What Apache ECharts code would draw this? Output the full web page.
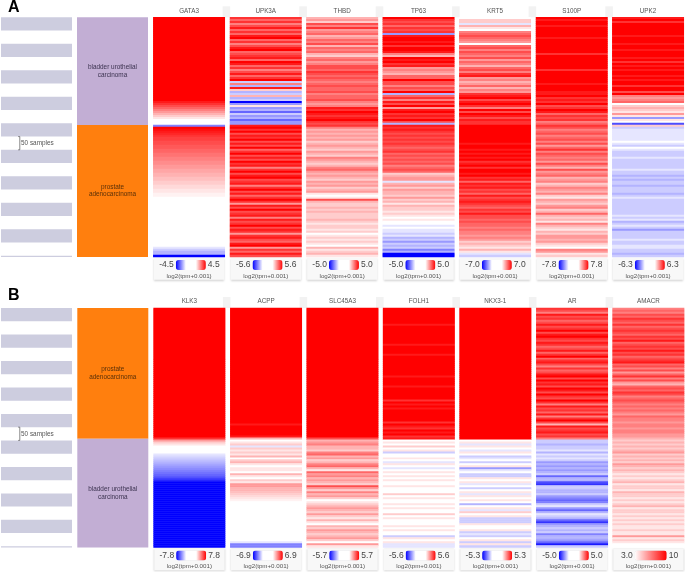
<!DOCTYPE html>
<html><head><meta charset="utf-8">
<style>html,body{margin:0;padding:0;background:#fff}#c{width:685px;height:572px}</style>
<script src="https://cdn.jsdelivr.net/npm/echarts@6/dist/echarts.min.js"></script>
</head><body><div id="c"></div>
<script>
// Row levels: -10 full blue, 0 white, +10 full red. 12 lines of 10 rows, top to bottom.
const GATA3=[10,10,10,10,10,10,10,10,10,10,10,10,10,10,10,10,10,10,10,10,10,10,10,10,10,10,10,10,10,10,10,10,10,10,10,10,10,10,10,10,
10,10,9,8,7,6,5,4,3,2,
1,0,0,0,-5,10,9.5,9,8.5,8,
7.5,7.5,7,7,6.5,6.5,6,6,5.5,5.5,
5,5,4.5,4.5,4,4,3.5,3.5,3,3,
2.5,2.5,2,2,1.5,1.5,1,1,.5,.5,
0,0,0,0,0,0,0,0,0,0,
0,0,0,0,0,0,0,0,0,0,
0,0,0,0,0,-1,-2,-3,-3,-10];
const UPK3A=[8,6,8,5,7,9,6,8,6,9,
10,6,8,5,7,9,10,6,7,8,
9,6,10,9,6,8,5,7,9,6,
8,10,-2,5,-3,9,2,-3,-2,3,
-3,-2,-10,-4,1,-4,-3,-6,-2,-4,
-3,-6,-4,-4,9,10,8,10,7,9,
8,10,7,9,7,10,6,8,10,7,
9,7,10,8,9,5,8,10,7,9,
10,7,8,9,5,8,10,7,9,6,
8,10,8,4,9,7,10,7,8,9,
5,9,7,8,10,7,9,8,4,8,
9,7,6,9,10,4,8,6,9,7];
const THBD=[3,4,2,7,5,8,4,5,6,3,
4,6,5,7,3,6,5,6,3,2,
5,6,4,5,7,7,6,8,7,6,
7,6,5,6,7,6,6,7,5,6,
6,7,5,4,5,9,8,10,9,8,
9,10,8,7,8,5,3,4,3,4,
3,4,2,3,4,3,2,4,3,2,
5,4,3,2,3,5,6,4,3,4,
3,2,4,3,4,2,3,4,1,0,
1,7,3,2,2,3,2,3,2,2,
2,3,2,1,2,2,1,2,0,1,
2,1,2,1,0,3,1,2,3,1];
const TP63=[10,8,7,8,6,8,7,8,-4,9,
10,10,9,10,8,10,10,9,5,3,
10,9,10,8,9,4,5,4,3,6,
6,10,7,7,5,7,6,10,-3,6,
8,5,9,7,10,4,9,10,8,9,
8,10,7,-3,9,8,9,8,7,8,
7,8,7,8,7,6,7,8,6,7,
6,7,6,7,5,6,7,6,2,3,
4,4,-1,3,4,2,4,3,3,2,
4,2,3,1,3,2,2,1,2,1,
0,1,0,0,-1,0,-1,-1,-2,-1,
-3,-2,-4,-2,-3,-2,-5,-3,-10,-10];
const KRT5=[0,2,2,-1,3,1,0,5,6,7,
6,5,4,0,6,7,5,7,6,5,
7,4,6,5,3,6,7,5,8,9,
4,5,3,4,6,3,5,4,8,9,
10,7,9,10,8,5,10,7,10,9,
7,9,8,8,10,10,10,10,10,10,
10,10,10,9,10,10,9,10,9,10,
9,10,8,9,10,8,10,10,9,10,
8,9,6,9,8,9,7,8,6,9,
7,8,9,8,7,6,8,7,9,7,
7,6,7,6,6,5,6,5,5,4,
5,4,2,3,2,1,3,1,-1,-2];
const S100P=[10,9,10,10,9,10,10,10,10,10,
9,10,10,10,10,10,10,10,8,10,
10,10,10,10,10,10,8,10,10,10,
10,10,10,9,10,10,10,9,9,10,
8,9,8,10,7,8,10,9,6,8,
7,8,5,6,8,7,5,6,7,5,
6,7,5,7,4,6,8,5,7,6,
5,6,4,7,5,3,7,4,5,6,
3,4,5,2,3,5,4,3,5,2,
1,4,3,2,4,5,2,3,6,3,
2,3,1,5,3,2,1,3,2,4,
4,3,4,2,1,0,5,4,1,2];
const UPK2=[9,10,8,10,10,10,10,10,10,9,
10,10,10,9,10,10,9,10,10,10,
9,10,8,10,9,10,9,10,10,9,
10,9,10,10,8,10,10,7,10,5,
4,5,6,0,2,3,2,1,4,1,
-4,1,0,-7,2,-2,-1,-1,-1,-1,
-1,-1,0,-1,-2,0,-1,-2,-2,-2,
-1,-2,-2,-2,-2,-2,-1,-2,-2,-3,
-2,-3,-2,-2,-3,-2,-2,-2,-3,-2,
-1,-2,-2,-2,-2,-2,-2,-2,-2,-1,
-2,-1,-3,-2,-1,-2,-4,-2,-2,-2,
-2,-1,-2,-2,-1,-1,-2,-2,-3,-2];
const KLK3=[10,10,10,10,10,10,10,10,10,10,10,10,10,10,10,10,10,10,10,10,10,10,10,10,10,10,10,10,10,10,
10,10,10,10,10,10,10,10,10,10,10,10,10,10,10,10,10,10,10,10,10,10,10,10,10,10,10,10,10,10,
10,10,10,10,10,8,4,2,1,0,
0,0,0,-1,-1.5,-2,-2.5,-3,-3.5,-4,
-4.5,-5,-5.5,-6,-6.5,-7.5,-8.5,-10,-10,-10,
-10,-10,-10,-10,-10,-10,-10,-10,-10,-10,-10,-10,-10,-10,-10,-10,-10,-10,-10,-10,-10,-10,-10,-10,-10,-10,-10,-10,-10,-10];
const ACPP=[10,10,10,10,10,10,10,10,10,10,10,10,10,10,10,10,10,10,10,10,10,10,10,10,10,
10,10,10,10,10,10,10,10,10,10,10,10,10,10,10,10,10,10,10,10,10,10,10,10,10,
10,10,10,10,10,10,10,10,9,10,
10,10,10,10,9,3,0,1,2,-1,
2,1,2,1,3,0,2,3,1,0,
1,1,0,3,1,0,2,1,4,4,
3,3,2.5,2,1.5,1,.5,0,0,0,
0,0,0,0,0,0,0,0,0,0,
0,0,0,0,0,0,0,-1,-5,-5];
const SLC45A3=[10,10,10,10,10,10,10,10,10,10,10,10,10,10,10,10,10,10,10,10,10,10,10,10,10,10,10,10,10,10,
10,10,10,10,10,10,10,10,10,10,10,10,10,10,10,10,10,10,10,10,10,10,10,10,10,10,10,10,10,10,
10,10,10,10,10,7,3,4,5,3,
3,2,5,6,3,4,2,3,5,6,
3,1,6,4,5,3,4,3,2,7,
4,2,5,3,4,2,0,1,2,3,
4,3,2,4,2,1,3,1,0,3,
2,4,3,2,3,4,2,0,4,1];
const FOLH1=[10,10,10,10,10,10,10,10,9,10,
10,10,10,10,10,10,10,10,9,10,
10,10,10,9,10,10,10,10,10,10,
10,10,10,10,9,10,10,10,10,9,
10,10,10,10,10,10,8,10,9,10,
9,10,10,10,10,10,10,8,10,9,
8,10,9,10,8,9,0,1,0,2,
0,1,-2,0,0,1,0,-1,1,0,
-1,0,1,0,1,0,1,0,0,1,
0,0,0,2,0,1,0,0,1,0,
1,0,0,2,0,1,0,0,0,1,
0,1,0,0,-2,1,0,1,-1,-1];
const NKX31=[10,10,10,10,10,10,10,10,10,10,10,10,10,10,10,10,10,10,10,10,10,10,10,10,10,10,10,10,10,10,
10,10,10,10,10,10,10,10,10,10,10,10,10,10,10,10,10,10,10,10,10,10,10,10,10,10,10,10,10,10,
10,10,10,10,10,10,0,1,-1,1,
0,-1,1,0,-2,-1,0,-2,0,1,
-4,-1,0,-2,-2,1,0,1,-1,0,
-2,0,1,-1,1,0,1,0,-3,0,
1,-1,2,0,1,-2,-2,-2,1,0,
0,1,-2,-1,-2,0,1,-2,1,-2];
const AR=[8,7,5,9,7,8,6,7,9,7,
8,10,7,9,10,8,7,9,8,6,
7,9,6,8,10,6,8,9,7,5,
8,6,7,9,10,7,10,8,9,7,
10,9,7,10,8,7,10,8,5,9,
7,8,6,9,5,8,10,7,3,9,
7,8,9,7,8,5,-2,-2,-3,-2,
-2,-1,-3,-1,-2,-1,-2,-4,-3,-4,
-3,-4,-3,-2,-6,-3,-3,-7,-8,-2,
-2,-3,-3,-2,-4,-5,-6,-5,-2,-1,
-4,-6,-3,-1,-2,-3,-6,-8,-4,-3,
-2,-3,-2,-5,-3,-3,-4,-6,-9,-2];
const AMACR=[5,6,5,7,6,8,7,6,8,6,
7,8,7,6,8,7,9,6,7,8,
7,9,7,8,6,7,8,9,6,7,
5,7,4,6,8,5,7,4,3,6,
7,6,8,7,5,6,7,6,5,6,
5,6,5,4,6,5,5,4,5,5,
4,5,5,4,4,3,2,3,2,3,
2,3,4,2,3,2,3,2,4,3,
2,3,2,1,2,1,2,3,1,2,
2,1,3,2,2,1,2,1,2,3,
1,2,2,1,2,1,2,1,2,1,
1,2,1,1,4,1,2,1,0,0];

const genesA=['GATA3','UPK3A','THBD','TP63','KRT5','S100P','UPK2'];
const genesB=['KLK3','ACPP','SLC45A3','FOLH1','NKX3-1','AR','AMACR'];
const levelsA=[GATA3,UPK3A,THBD,TP63,KRT5,S100P,UPK2];
const levelsB=[KLK3,ACPP,SLC45A3,FOLH1,NKX31,AR,AMACR];
const minsA=[-4.5,-5.6,-5.0,-5.0,-7.0,-7.8,-6.3];
const maxsA=[4.5,5.6,5.0,5.0,7.0,7.8,6.3];
const minsB=[-7.8,-6.9,-5.7,-5.6,-5.3,-5.0,3.0];
const maxsB=[7.8,6.9,5.7,5.6,5.3,5.0,10];
const lowLabelsA=['-4.5','-5.6','-5.0','-5.0','-7.0','-7.8','-6.3'];
const highLabelsA=['4.5','5.6','5.0','5.0','7.0','7.8','6.3'];
const lowLabelsB=['-7.8','-6.9','-5.7','-5.6','-5.3','-5.0','3.0'];
const highLabelsB=['7.8','6.9','5.7','5.6','5.3','5.0','10'];
const unitLabel='log2(tpm+0.001)';
const groupsA=[{name:'bladder urothelial\ncarcinoma',n:203,color:'#c2aed4',text:'#3c3350'},{name:'prostate\nadenocarcinoma',n:249,color:'#ff7f0e',text:'#5a3008'}];
const groupsB=[{name:'prostate\nadenocarcinoma',n:247,color:'#ff7f0e',text:'#5a3008'},{name:'bladder urothelial\ncarcinoma',n:205,color:'#c2aed4',text:'#3c3350'}];
const sampleStripes=[[0,25],[50,75],[100,125],[150,175],[200,225],[250,275],[300,325],[350,375],[400,425],[450,452]];
const scaleBar=[225,250];
const scaleLabel='50 samples';
const totalSamples=452;
const blockLabels=['A','B'];

const FONT='"Liberation Sans",Arial,sans-serif';
const colX=[153.3,230,306.4,382.8,459.3,536,612.3], colW=71.5;
const blocks=[
 {top:17.3,h:239.6,genes:genesA,levels:levelsA,mins:minsA,maxs:maxsA,lo:lowLabelsA,hi:highLabelsA,groups:groupsA,label:blockLabels[0],labelY:7.5,dx:0,textOff:19},
 {top:308,h:239.4,genes:genesB,levels:levelsB,mins:minsB,maxs:maxsB,lo:lowLabelsB,hi:highLabelsB,groups:groupsB,label:blockLabels[1],labelY:295.5,dx:0.3,textOff:18.4}
];
const grid=[],xAxis=[],yAxis=[],series=[],visualMap=[],graphic=[];
function addGrid(l,t,w,h,xa,ya){
  const i=grid.length;
  grid.push({left:l,top:t,width:w,height:h,containLabel:false});
  xAxis.push(Object.assign({gridIndex:i},xa));
  yAxis.push(Object.assign({gridIndex:i},ya));
  return i;
}
function toValue(level,min,max){
  if(min>=0) return min+(max-min)*level/10;
  if(level===0) return 0;
  const s=level<0?-1:1;
  return s*max*(1/3+2/3*Math.abs(level)/10);
}
blocks.forEach(b=>{
  graphic.push({type:'text',x:8,y:b.labelY,style:{text:b.label,font:'bold 16px '+FONT,fill:'#000',verticalAlign:'middle'}});
  const sx={type:'value',min:0,max:71,show:false};
  const sy={type:'value',min:0,max:totalSamples,inverse:true,show:false};
  const g0=addGrid(1,b.top,71,b.h,sx,sy);
  series.push({type:'custom',xAxisIndex:g0,yAxisIndex:g0,silent:true,clip:false,animation:false,
    data:sampleStripes,
    renderItem(p,api){
      const a=api.coord([0,api.value(0)]),e=api.coord([71,api.value(1)]);
      return {type:'rect',shape:{x:a[0],y:a[1],width:e[0]-a[0],height:e[1]-a[1]},style:{fill:'#cdcddf'}};
    },encode:{y:[0,1]}});
  series.push({type:'custom',xAxisIndex:g0,yAxisIndex:g0,silent:true,clip:false,animation:false,
    data:[scaleBar],
    renderItem(p,api){
      const a=api.coord([17.2,api.value(0)]),e=api.coord([18.8,api.value(1)]);
      return {type:'group',children:[
        {type:'polyline',shape:{points:[[a[0],a[1]],[e[0],a[1]],[e[0],e[1]],[a[0],e[1]]]},style:{fill:null,stroke:'#555',lineWidth:0.7}},
        {type:'text',x:e[0]+1.2,y:(a[1]+e[1])/2,style:{text:scaleLabel,font:'6.4px '+FONT,fill:'#555',verticalAlign:'middle'}}
      ]};
    },encode:{y:[0,1]}});
  const g1=addGrid(77+b.dx,b.top,71,b.h,sx,{type:'value',min:0,max:b.groups.reduce((s,g)=>s+g.n,0),inverse:true,show:false});
  let acc=0; const groupData=b.groups.map((g,i)=>{const r=[acc,acc+g.n,i];acc+=g.n;return r;});
  series.push({type:'custom',xAxisIndex:g1,yAxisIndex:g1,silent:true,clip:false,animation:false,
    data:groupData,
    renderItem(p,api){
      const g=b.groups[api.value(2)];
      const a=api.coord([0,api.value(0)]),e=api.coord([71,api.value(1)]);
      return {type:'group',children:[
        {type:'rect',shape:{x:a[0],y:a[1],width:e[0]-a[0],height:e[1]-a[1]},style:{fill:g.color}},
        {type:'text',x:(a[0]+e[0])/2,y:(a[1]+e[1])/2,style:{text:g.name,font:'6.4px '+FONT,fill:g.text,align:'center',verticalAlign:'middle',lineHeight:7.4}}
      ]};
    },encode:{y:[0,1]}});
  b.genes.forEach((gene,k)=>{
    const x0=colX[k]+b.dx, lv=b.levels[k], mn=b.mins[k], mx=b.maxs[k];
    const g=addGrid(x0,b.top,colW,b.h,
      {type:'category',data:[gene],position:'top',axisLine:{show:false},axisTick:{show:false},splitLine:{show:false},
       axisLabel:{show:true,fontSize:6.3,fontFamily:FONT,color:'#555',margin:3.5}},
      {type:'category',inverse:true,data:lv.map((_,r)=>r),show:false});
    const si=series.length;
    series.push({type:'heatmap',xAxisIndex:g,yAxisIndex:g,silent:true,animation:false,progressive:0,
      data:lv.map((v,r)=>[0,r,toValue(v,mn,mx)]),emphasis:{disabled:true}});
    const sym=mn<0;
    const labW=sym?14.6:11.9, barX=sym?x0+22.5:x0+22.2, barW=sym?30:32;
    visualMap.push({type:'continuous',seriesIndex:si,dimension:2,min:mn,max:mx,orient:'horizontal',calculable:false,hoverLink:false,
      itemWidth:10.2,itemHeight:barW,padding:0,textGap:2,left:barX-2-labW,top:b.top+b.h+3,align:'auto',
      text:[b.hi[k],b.lo[k]],textStyle:{fontSize:8.5,fontFamily:FONT,color:'#444'},
      inRange:{color:sym?['#0000ff','#ffffff','#ffffff','#ff0000']:['#ffffff','#ff0000']}});
    graphic.push({type:'rect',shape:{x:x0+0.7,y:b.top+b.h+1.2,width:colW-1.2,height:21.6},z:-1,
      style:{fill:'#f8f8f8',shadowBlur:2,shadowColor:'rgba(0,0,0,0.18)',shadowOffsetY:0.8},silent:true});
    graphic.push({type:'text',x:x0+colW/2,y:b.top+b.h+b.textOff,z:1,silent:true,
      style:{text:unitLabel,font:'6.2px '+FONT,fill:'#555',align:'center',verticalAlign:'middle'}});
    if(k<6) graphic.push({type:'rect',shape:{x:x0+colW-2.2,y:b.top-11,width:7.6,height:11},z:-1,style:{fill:'#f2f2f2'},silent:true});
  });
});
const chart=echarts.init(document.getElementById('c'),null,{renderer:'canvas',width:685,height:572});
chart.setOption({animation:false,backgroundColor:'#fff',tooltip:{show:false},grid,xAxis,yAxis,series,visualMap,graphic:{elements:graphic}});
</script></body></html>
